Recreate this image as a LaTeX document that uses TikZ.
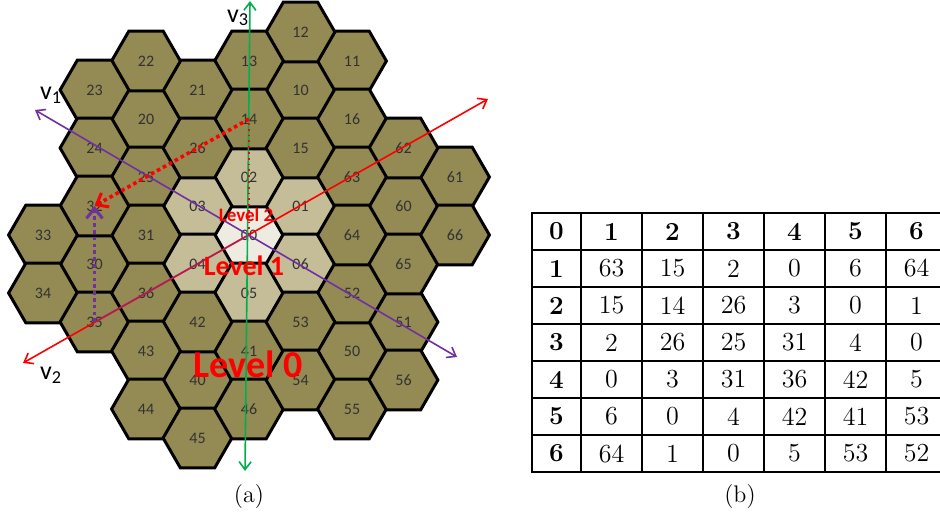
\documentclass[tikz,border=0pt]{standalone}
\usepackage{fontspec}
\newfontfamily\calib{Carlito}
\usepackage{tikz}
\usetikzlibrary{arrows.meta,positioning,shapes.geometric}
\definecolor{hexdark}{RGB}{148,138,84}
\definecolor{hexmid}{RGB}{196,189,151}
\definecolor{hexlight}{RGB}{238,236,225}
\definecolor{labelgray}{RGB}{50,50,50}
\definecolor{axisred}{RGB}{255,0,0}
\definecolor{axispurple}{RGB}{112,48,160}
\definecolor{axisgreen}{RGB}{0,176,80}

\begin{document}
\begin{tikzpicture}[
  x=0.5pt, y=-0.5pt,
  hexcell/.style={regular polygon, regular polygon sides=6, minimum size=34.4pt, inner sep=0pt,
    draw=black, line width=1.5pt, text=labelgray, font=\calib\fontsize{8}{9}\selectfont},
  hexouter/.style={fill=hexdark},
  hexinner/.style={fill=hexmid},
  hexcenter/.style={fill=hexlight},
  axisline/.style={line width=0.8pt, {Straight Barb[length=4pt,width=6pt]}-{Straight Barb[length=4pt,width=6pt]}},
  pathdots/.style={line width=1.8pt, dash pattern=on 1.8pt off 1.6pt, -{Straight Barb[length=5pt,width=8pt,line width=1.5pt]}},
  levellabel/.style={text=axisred, font=\calib\bfseries},
  vlabel/.style={font=\calib\fontsize{13}{15}\selectfont},
  cell/.style={font=\fontsize{13}{15}\selectfont, inner sep=0pt},
  gridline/.style={line width=0.7pt},
  gridframe/.style={line width=1.2pt}
]
  \useasboundingbox (0,0) rectangle (940,517);

  % hexagonal cells: name / column / half-row / kind
  \foreach \n/\c/\m/\s in {00/0/0/hexcenter, 01/1/1/hexinner, 02/0/2/hexinner, 03/-1/1/hexinner,
      04/-1/-1/hexinner, 05/0/-2/hexinner, 06/1/-1/hexinner,
      10/1/5/hexouter, 11/2/6/hexouter, 12/1/7/hexouter, 13/0/6/hexouter, 14/0/4/hexouter, 15/1/3/hexouter, 16/2/4/hexouter,
      20/-2/4/hexouter, 21/-1/5/hexouter, 22/-2/6/hexouter, 23/-3/5/hexouter, 24/-3/3/hexouter, 25/-2/2/hexouter, 26/-1/3/hexouter,
      30/-3/-1/hexouter, 31/-2/0/hexouter, 32/-3/1/hexouter, 33/-4/0/hexouter, 34/-4/-2/hexouter, 35/-3/-3/hexouter, 36/-2/-2/hexouter,
      40/-1/-5/hexouter, 41/0/-4/hexouter, 42/-1/-3/hexouter, 43/-2/-4/hexouter, 44/-2/-6/hexouter, 45/-1/-7/hexouter, 46/0/-6/hexouter,
      50/2/-4/hexouter, 51/3/-3/hexouter, 52/2/-2/hexouter, 53/1/-3/hexouter, 54/1/-5/hexouter, 55/2/-6/hexouter, 56/3/-5/hexouter,
      60/3/1/hexouter, 61/4/2/hexouter, 62/3/3/hexouter, 63/2/2/hexouter, 64/2/0/hexouter, 65/3/-1/hexouter, 66/4/0/hexouter}
    \node[hexcell, \s] (h\n) at ({249+51.5*\c},{235-29*\m}) {\raisebox{-1.5pt}{\n}};

  % axes
  \coordinate (v1a) at (35,110);
  \coordinate (v1b) at (457,357);
  \coordinate (v2a) at (23,363);
  \coordinate (v2b) at (488,99);
  \coordinate (v3a) at (245,471);
  \coordinate (v3b) at (250,1);
  \draw[axisline, axispurple] (v1b) -- (v1a);
  \draw[axisline, axisred] (v2b) -- (v2a);
  \draw[axisline, axisgreen] (v3a) -- (v3b);
  \node[vlabel] (v1) at (51,95) {v\textsubscript{1}};
  \node[vlabel] (v2) at (51,375) {v\textsubscript{2}};
  \node[vlabel] (v3) at (238,18) {v\textsubscript{3}};

  % paths to cell 32
  \draw[axisred, line width=0.9pt, dotted] (h00.center) -- (h14.center);
  \draw[pathdots, axisred] (h14.center) -- (h32.center);
  \draw[axispurple, line width=0.9pt, opacity=0.5] (h00.center) -- (h35.center);
  \draw[pathdots, axispurple] (h35.center) -- (h32.center);

  \node[levellabel, font=\calib\bfseries\fontsize{9.5}{10}\selectfont] (lvl2) at (246,215) {Level 2};
  \node[levellabel, font=\calib\bfseries\fontsize{14}{16}\selectfont] (lvl1) at (244,266) {Level 1};
  \node[levellabel, font=\calib\bfseries\fontsize{19}{21}\selectfont] (lvl0) at (248,364) {Level 0};

  % table
  \foreach \x in {581,642,703,764,825,886}
    \draw[gridline] (\x,213) -- (\x,472);
  \foreach \y in {250,287,324,361,398,435}
    \draw[gridline] (532,\y) -- (947,\y);
  \draw[gridframe] (532,213) rectangle (947,472);
  \foreach \row [count=\r from 0] in {{0,1,2,3,4,5,6},{1,63,15,2,0,6,64},{2,15,14,26,3,0,1},
      {3,2,26,25,31,4,0},{4,0,3,31,36,42,5},{5,6,0,4,42,41,53},{6,64,1,0,5,53,52}}
    \foreach \v [count=\c from 0] in \row
      \node[cell] (t\r\c) at ({ifthenelse(\c==0,556.5,550.5+61*\c)},{231.5+37*\r})
        {\ifnum\r=0 \bfseries\fi\ifnum\c=0 \bfseries\fi\v};

  \node[font=\fontsize{12}{14}\selectfont] (capa) at (249,497) {(a)};
  \node[font=\fontsize{12}{14}\selectfont] (capb) at (740,497) {(b)};
\end{tikzpicture}
\end{document}
